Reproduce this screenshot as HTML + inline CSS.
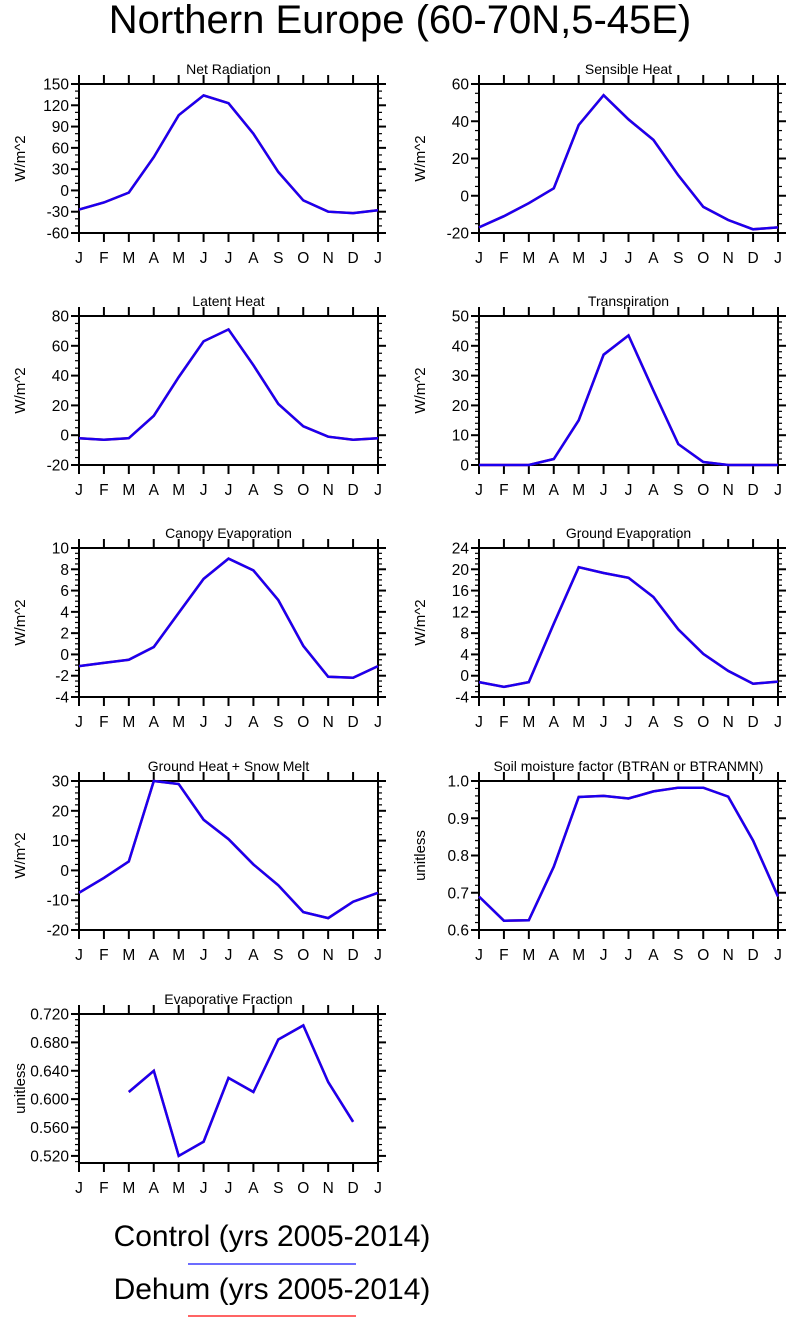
<!DOCTYPE html>
<html><head><meta charset="utf-8"><style>
body{margin:0;background:#fff;width:787px;height:1318px;overflow:hidden}
svg{display:block;font-family:"Liberation Sans",sans-serif}
</style></head><body>
<svg id="s" width="787" height="1318" viewBox="0 0 787 1318">
<text x="400" y="33" font-size="40" text-anchor="middle">Northern Europe (60-70N,5-45E)</text>
<text x="272" y="1246" font-size="30" text-anchor="middle">Control (yrs 2005-2014)</text>
<line x1="188" x2="356" y1="1264" y2="1264" stroke="#3b3bff" stroke-width="1.5"/>
<text x="272" y="1299" font-size="30" text-anchor="middle">Dehum (yrs 2005-2014)</text>
<line x1="188" x2="356" y1="1316" y2="1316" stroke="#ff3030" stroke-width="1.5"/>
</svg>
<script>
const months=["J","F","M","A","M","J","J","A","S","O","N","D","J"];
const netRad=[-27,-17,-3,47,106,134,123,80,26,-14,-30,-32,-28];
const sensible=[-17,-11,-4,4,38,54,41,30,11,-6,-13,-18,-17];
const latent=[-2,-3,-2,13,39,63,71,47,21,6,-1,-3,-2];
const transp=[0,0,0,2,15,37,43.5,25,7,1,0,0,0];
const canopy=[-1.1,-0.8,-0.5,0.7,3.9,7.1,9,7.9,5.1,0.8,-2.1,-2.2,-1.1];
const groundEvap=[-1.2,-2.1,-1.2,9.8,20.4,19.3,18.4,14.8,8.7,4.1,0.9,-1.5,-1.1];
const groundHeat=[-7.5,-2.5,3,30,29,17,10.5,2,-5,-14,-16,-10.5,-7.5];
const btran=[0.69,0.625,0.626,0.77,0.957,0.96,0.953,0.972,0.982,0.982,0.958,0.84,0.69];
const evapFrac=[null,null,0.61,0.64,0.52,0.54,0.63,0.61,0.684,0.704,0.624,0.568,null];
const ticks1=[-60,-30,0,30,60,90,120,150];
const ticks2=[-20,0,20,40,60];
const ticks3=[-20,0,20,40,60,80];
const ticks4=[0,10,20,30,40,50];
const ticks5=[-4,-2,0,2,4,6,8,10];
const ticks6=[-4,0,4,8,12,16,20,24];
const ticks7=[-20,-10,0,10,20,30];
const ticks8=[0.6,0.7,0.8,0.9,1.0];
const ticks9=[0.52,0.56,0.60,0.64,0.68,0.72];

const NS="http://www.w3.org/2000/svg";
const svg=document.getElementById('s');
function mk(tag,attrs,parent){const e=document.createElementNS(NS,tag);for(const k in attrs)e.setAttribute(k,attrs[k]);(parent||svg).appendChild(e);return e;}

function panel(key,title,ylab,left,top,data,ymin,ymax,ticks,minorDiv,dec){
  const W=299,H=149;
  const g=mk('g',{});
  
  
  const xs=i=>left+i*W/12;
  const ys=v=>top+H-(v-ymin)/(ymax-ymin)*H;
  const t=mk('text',{x:left+W/2,y:top-10,'font-size':14,'text-anchor':'middle'},g);t.textContent=title;
  
  
  const yl=mk('text',{x:0,y:0,'font-size':15,'text-anchor':'middle',transform:`translate(${left-54},${top+H/2}) rotate(-90)`},g);yl.textContent=ylab;
  
  
  const ax=mk('g',{stroke:'#000','stroke-width':2},g);
  
  
  for(let i=0;i<13;i++){const x=xs(i);
    mk('line',{x1:x,x2:x,y1:top+H,y2:top+H+9},ax);
    mk('line',{x1:x,x2:x,y1:top,y2:top-9},ax);
    const l=mk('text',{x:x,y:top+H+30,'font-size':15.5,'text-anchor':'middle'},g);l.textContent=months[i];
    
    
  }
  const step=ticks[1]-ticks[0];
  for(let j=0;j<ticks.length;j++){const v=ticks[j],y=ys(v);
    mk('line',{x1:left-8,x2:left,y1:y,y2:y},ax);
    mk('line',{x1:left+W,x2:left+W+8,y1:y,y2:y},ax);
    const l=mk('text',{x:left-10,y:y+5.5,'font-size':15.5,'text-anchor':'end'},g);l.textContent=v.toFixed(dec);
    
    
  }
  const ms=step/minorDiv;
  for(let v=ticks[0]-step;v<=ymax+1e-9;v+=ms){
    if(v<ymin-1e-9)continue;
    const y=ys(v);
    mk('line',{x1:left-4,x2:left,y1:y,y2:y,'stroke-width':1.2},ax);
    mk('line',{x1:left+W,x2:left+W+4,y1:y,y2:y,'stroke-width':1.2},ax);
  }
  mk('rect',{x:left,y:top,width:W,height:H,fill:'none'},ax);
  let d='',pen=false;
  data.forEach((v,i)=>{if(v===null){pen=false;return;}d+=(pen?'L':'M')+xs(i).toFixed(1)+' '+ys(v).toFixed(1);pen=true;});
  const r=mk('path',{d:d,fill:'none',stroke:'#ff2020','stroke-width':2.5},g);
  
  
  const b=mk('path',{d:d,fill:'none',stroke:'#1a00f0','stroke-width':2.5},g);
  
  
}
const L=79,R=479;
panel('net-radiation','Net Radiation','W/m^2',L,84,netRad,-60,150,ticks1,3,0);
panel('sensible-heat','Sensible Heat','W/m^2',R,84,sensible,-20,60,ticks2,4,0);
panel('latent-heat','Latent Heat','W/m^2',L,316,latent,-20,80,ticks3,4,0);
panel('transpiration','Transpiration','W/m^2',R,316,transp,0,50,ticks4,5,0);
panel('canopy-evaporation','Canopy Evaporation','W/m^2',L,548,canopy,-4,10,ticks5,4,0);
panel('ground-evaporation','Ground Evaporation','W/m^2',R,548,groundEvap,-4,24,ticks6,4,0);
panel('ground-heat','Ground Heat + Snow Melt','W/m^2',L,781,groundHeat,-20,30,ticks7,5,0);
panel('soil-moisture','Soil moisture factor (BTRAN or BTRANMN)','unitless',R,781,btran,0.6,1.0,ticks8,5,1);
panel('evaporative-fraction','Evaporative Fraction','unitless',L,1014,evapFrac,0.51,0.72,ticks9,5,3);
</script>
</body></html>
